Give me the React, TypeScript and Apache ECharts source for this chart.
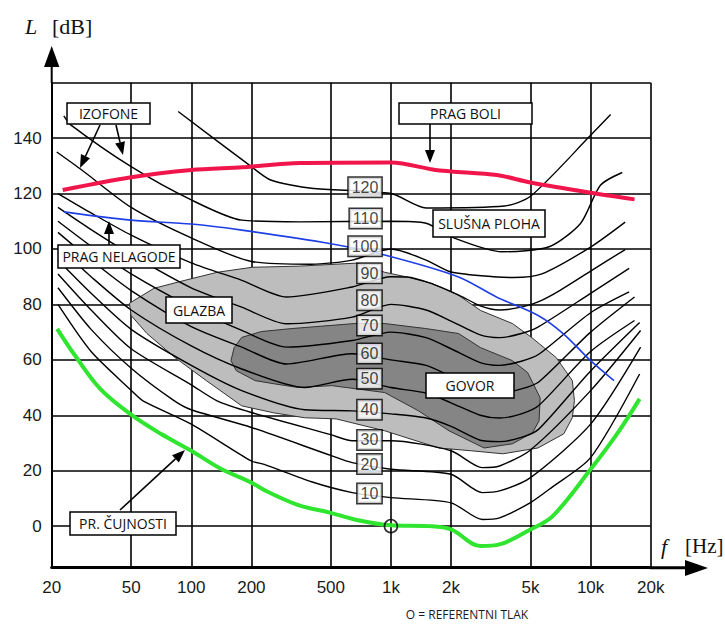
import React, { useEffect, useRef } from "react";
import * as echarts from "echarts";

type Pt = [number, number];

const frequencyTicks = [20, 50, 100, 200, 500, 1000, 2000, 5000, 10000, 20000];
const frequencyTickLabels = ["20", "50", "100", "200", "500", "1k", "2k", "5k", "10k", "20k"];
const levelGridLines = [0, 20, 40, 60, 80, 100, 120, 140, 160];
const levelTickLabels = [0, 20, 40, 60, 80, 100, 120, 140];

const hearingThreshold: Pt[] = [
  [21.3, 71.2], [25.8, 62.2], [35, 49.5], [50, 40.2], [70, 33.4], [100, 27.2], [140, 20.8], [200, 15.7],
  [240, 12.5], [344, 7.6], [500, 4.8], [658, 2.4], [1000, 0.3], [1540, 0], [2000, -1.2], [2810, -7.2],
  [3500, -6.6], [5000, -1.2], [6460, 3.6], [10000, 20.5], [13900, 34.4], [17600, 45.9],
];
const painThreshold: Pt[] = [
  [22.7, 121.3], [50, 125.9], [100, 128.5], [180, 129.5], [350, 131], [1000, 131.2], [1670, 128.5],
  [2000, 128], [3400, 126.7], [5000, 124], [10000, 120.3], [16600, 117.9],
];
const discomfortThreshold: Pt[] = [
  [23, 113.4], [50, 110.4], [100, 109], [179, 106.8], [500, 101.9], [930, 97.8], [2180, 89.9],
  [3375, 82.7], [5460, 76], [7310, 69.4], [10000, 59.7], [13100, 52.5],
];

const phon10: Pt[] = [[21.5, 80], [31.5, 63], [50, 49], [57, 45.3], [100, 36.8], [200, 23.5], [232, 22.3], [400, 16], [640, 12.1], [1000, 10.3], [2000, 8.4], [2870, 2.4], [3500, 3], [5000, 8.5], [6400, 14], [10000, 24.7], [17600, 54.9]];
const phon20: Pt[] = [[21.5, 86], [31.5, 71], [50, 57], [82, 45.3], [100, 42], [200, 35.6], [500, 25.5], [640, 22.9], [1000, 20.5], [2000, 18.7], [2870, 12.1], [3500, 12.7], [5000, 17.5], [10000, 36.8], [17800, 64.6]];
const phon30: Pt[] = [[21.5, 91], [31.5, 78], [50, 64], [100, 51], [134, 45.3], [200, 41], [500, 33], [640, 30.8], [1000, 30.8], [2000, 27.2], [2870, 21.1], [3500, 21.7], [5000, 27.5], [10000, 48.9], [17800, 70.6]];
const phon40: Pt[] = [[21.5, 96], [31.5, 84], [50, 71], [100, 58], [179, 48.9], [370, 42], [640, 41.6], [1000, 40.5], [1500, 39], [2000, 36], [2800, 31], [3500, 30.5], [4500, 32], [5500, 35], [10000, 56], [17600, 73.5]];
const phon50: Pt[] = [[21.5, 101], [31.5, 90], [50, 78], [100, 65], [179, 56.7], [370, 50], [640, 53], [1000, 50], [1500, 48], [2000, 44.5], [2800, 40], [3500, 39], [4500, 40.5], [5500, 43.5], [10000, 63], [16600, 74.2]];
const phon60: Pt[] = [[21.5, 106], [31.5, 96], [50, 85], [100, 72], [179, 64.6], [300, 58.5], [640, 62.2], [1000, 60], [1500, 58], [2000, 54], [2800, 49], [3500, 48], [4500, 49.5], [5500, 52], [10000, 70], [16600, 82.7]];
const phon70: Pt[] = [[21.5, 110], [31.5, 101], [50, 91], [100, 79], [179, 70.6], [300, 64.6], [640, 67], [1000, 70], [1500, 68], [2000, 64], [2800, 59], [3500, 58], [4500, 59.5], [5500, 62], [10000, 77], [15600, 84.5]];
const phon80: Pt[] = [[21.5, 115], [31.5, 107], [50, 98], [100, 86], [179, 79], [300, 73], [640, 75.4], [1000, 80], [1500, 78], [2000, 74], [2800, 69], [3500, 68], [4500, 69.5], [5500, 72], [10000, 84], [15600, 93]];
const phon90: Pt[] = [[21.5, 120], [31.5, 113], [50, 105], [100, 95], [179, 88.7], [300, 82.7], [640, 86.3], [1000, 90], [1200, 89.9], [1600, 87.5], [2200, 83.3], [2800, 79.5], [3500, 78], [4500, 79], [5500, 81], [7000, 85], [10000, 92], [14900, 99.8]];
const phon100: Pt[] = [[21.2, 135], [28.3, 128.5], [50, 115], [100, 104], [200, 95.5], [400, 94.5], [640, 96], [1000, 100], [1500, 96], [2000, 91.7], [3400, 89.9], [4100, 89.7], [5700, 91], [10000, 100.7], [14900, 109.7]];
const phon110: Pt[] = [[23, 148], [24.9, 144.8], [50, 129.7], [100, 117.7], [179, 110.4], [350, 109.8], [1000, 110], [1500, 109.3], [2000, 104.4], [3600, 99], [6200, 100.8], [8900, 109.2], [11200, 123], [14400, 127.6]];
const phon120: Pt[] = [[86, 149.6], [200, 129.7], [250, 124.9], [400, 121.9], [1000, 120], [1500, 114.8], [3700, 115.5], [5000, 119], [10000, 141], [12600, 148.5]];

const isophones: Pt[][] = [phon10, phon20, phon30, phon40, phon50, phon60, phon70, phon80, phon90, phon100, phon110, phon120];
const phonValues = [10, 20, 30, 40, 50, 60, 70, 80, 90, 100, 110, 120];
const phonLabelLevels = [11.8, 22.4, 31.1, 42, 53.2, 62.3, 72.4, 81.5, 91.2, 101, 111, 122.3];
const phonLabelFrequency = 960;

const musicArea: Pt[] = [
  [49, 80.4], [65, 85.8], [93, 88.7], [135, 91.6], [202, 93.4], [344, 93.8], [674, 94.9], [931, 91.6],
  [1221, 89.8], [1600, 87.6], [2180, 83.3], [2813, 77.8], [4060, 73.1], [5060, 68.1], [6730, 60.8],
  [8100, 52.5], [8300, 45.3], [8100, 39.1], [7340, 33.3], [5450, 28.2], [3640, 26.1], [2515, 27.2],
  [1737, 28.2], [931, 34.4], [531, 38.7], [370, 39.1], [258, 40.9], [179, 43.4], [119, 52.5], [83, 60.8],
  [60, 69.5], [50, 76],
];
const speechArea: Pt[] = [
  [164, 64.4], [179, 68.1], [224, 70.2], [320, 71.3], [658, 73.1], [931, 73.1], [1491, 71.3], [2180, 69.5],
  [2813, 64.4], [4060, 59.7], [4840, 55.4], [5590, 46.3], [5520, 38], [5120, 33.7], [4060, 29.7],
  [2930, 28.2], [1953, 34.4], [1374, 41.6], [931, 48.2], [505, 50.7], [344, 50], [258, 51.4], [209, 52.5],
  [168, 56.1], [158, 59.7],
];
const referencePoint: Pt = [1000, 0];

function freqLabel(v: number): string {
  for (let i = 0; i < frequencyTicks.length; i++) {
    if (Math.abs(Math.log10(v) - Math.log10(frequencyTicks[i])) < 0.01) return frequencyTickLabels[i];
  }
  return "";
}

function arrow(x1: number, y1: number, x2: number, y2: number, head = 13, half = 5) {
  const dx = x2 - x1, dy = y2 - y1;
  const len = Math.hypot(dx, dy);
  const ux = dx / len, uy = dy / len;
  const bx = x2 - ux * head, by = y2 - uy * head;
  return [
    { type: "line", z: 100, shape: { x1, y1, x2: bx, y2: by }, style: { stroke: "#000", lineWidth: 1.6 } },
    {
      type: "polygon", z: 100,
      shape: { points: [[x2, y2], [bx - uy * half, by + ux * half], [bx + uy * half, by - ux * half]] },
      style: { fill: "#000" },
    },
  ];
}

function box(x: number, y: number, w: number, h: number, text: string) {
  return [
    { type: "rect", z: 100, shape: { x, y, width: w, height: h }, style: { fill: "#fff", stroke: "#000", lineWidth: 1.5 } },
    {
      type: "text", z: 101, x: x + w / 2, y: y + h / 2,
      style: {
        text, fill: "#111", font: '14px "Open Sans"',
        align: "center", verticalAlign: "middle", textAlign: "center", textVerticalAlign: "middle",
      },
    },
  ];
}

function areaSeries(name: string, pts: Pt[], fill: string, z: number) {
  return {
    type: "custom", name, z, silent: true,
    data: [[1000, 50]],
    renderItem: (_p: any, api: any) => ({
      type: "polygon",
      shape: { points: pts.map((p) => api.coord(p)) },
      style: { fill, stroke: "#333", lineWidth: 1 },
    }),
  };
}

export default function App() {
  const ref = useRef<HTMLDivElement>(null);
  useEffect(() => {
    document.body.style.margin = "0";
    const chart = echarts.init(ref.current!, undefined, { renderer: "svg" });

    const series: any[] = [
      areaSeries("GLAZBA", musicArea, "#bdbdbd", 1),
      areaSeries("GOVOR", speechArea, "#858585", 2),
    ];
    isophones.forEach((d, i) => {
      series.push({
        type: "line", name: phonValues[i] + " phon", data: d, symbol: "none", smooth: 0.25, z: 3,
        lineStyle: { color: "#000", width: 1.4 }, silent: true,
      });
    });
    series.push({
      type: "line", name: "PRAG NELAGODE", data: discomfortThreshold, symbol: "none", smooth: 0.3, z: 4,
      lineStyle: { color: "#1f3fe6", width: 1.6 }, silent: true,
    });
    series.push({
      type: "line", name: "PRAG BOLI", data: painThreshold, symbol: "none", smooth: 0.3, z: 5,
      lineStyle: { color: "#f0164c", width: 4 }, silent: true,
    });
    series.push({
      type: "line", name: "PR. ČUJNOSTI", data: hearingThreshold, symbol: "none", smooth: 0.35, z: 5,
      lineStyle: { color: "#2fe52f", width: 4 }, silent: true,
    });
    series.push({
      type: "scatter", name: "REFERENTNI TLAK", data: [referencePoint], symbol: "circle", symbolSize: 13, z: 6,
      itemStyle: { color: "rgba(0,0,0,0)", borderColor: "#000", borderWidth: 1.6 }, silent: true,
    });
    series.push({
      type: "scatter", name: "phon", z: 7, symbolSize: 0, silent: true,
      data: phonLabelLevels.map((l, i) => [phonLabelFrequency, l, phonValues[i]]),
      label: {
        show: true, position: "left", distance: 6,
        formatter: (p: any) => String(p.value[2]),
        backgroundColor: "#fff", borderColor: "#000", borderWidth: 1.5, padding: [2, 3, 1, 3],
        color: "#111", fontSize: 16, fontFamily: "Liberation Sans",
      },
    });

    const graphic: any[] = [
      { type: "line", z: 100, shape: { x1: 51.7, y1: 83, x2: 51.7, y2: 64 }, style: { stroke: "#000", lineWidth: 2 } },
      { type: "polygon", z: 100, shape: { points: [[44, 67], [59.4, 67], [51.7, 46]] }, style: { fill: "#000" } },
      { type: "line", z: 100, shape: { x1: 650, y1: 567.7, x2: 688, y2: 567.7 }, style: { stroke: "#000", lineWidth: 3 } },
      { type: "polygon", z: 100, shape: { points: [[685, 560], [685, 576], [708, 568]] }, style: { fill: "#000" } },
      { type: "text", z: 101, x: 25, y: 26, style: { text: "L", fill: "#111", font: 'italic 22px "Liberation Serif"', verticalAlign: "middle", textVerticalAlign: "middle" } },
      { type: "text", z: 101, x: 52, y: 26, style: { text: "[dB]", fill: "#111", font: '22px "Liberation Serif"', verticalAlign: "middle", textVerticalAlign: "middle" } },
      { type: "text", z: 101, x: 661, y: 546, style: { text: "f", fill: "#111", font: 'italic 22px "Liberation Serif"', verticalAlign: "middle", textVerticalAlign: "middle" } },
      { type: "text", z: 101, x: 685, y: 546, style: { text: "[Hz]", fill: "#111", font: '21px "Liberation Serif"', verticalAlign: "middle", textVerticalAlign: "middle" } },
      {
        type: "text", z: 101, x: 467, y: 614,
        style: { text: "O = REFERENTNI TLAK", fill: "#1a1a1a", font: '12px "Open Sans"', align: "center", textAlign: "center", verticalAlign: "middle", textVerticalAlign: "middle" },
      },
      ...box(67, 103, 83, 21, "IZOFONE"),
      ...arrow(100, 125, 80, 168),
      ...arrow(116, 125, 123, 155),
      ...box(399, 103, 133, 21, "PRAG BOLI"),
      ...arrow(430, 124, 430, 163),
      ...box(433, 210, 112, 27, "SLUŠNA PLOHA"),
      ...box(58, 245, 122, 23, "PRAG NELAGODE"),
      ...arrow(109, 245, 109, 221),
      ...box(166, 297, 66, 26, "GLAZBA"),
      ...box(426, 373, 88, 25, "GOVOR"),
      ...box(70, 512, 106, 23, "PR. ČUJNOSTI"),
      ...arrow(120, 510, 185, 450),
    ];

    chart.setOption({
      animation: false,
      backgroundColor: "#fff",
      grid: { left: 51.7, right: 74.3, top: 82.7, bottom: 58.3, containLabel: false },
      xAxis: {
        type: "log", logBase: 10, min: 20, max: 20000,
        axisLine: { show: true, onZero: false, lineStyle: { color: "#000", width: 3 } },
        axisTick: { show: false, customValues: frequencyTicks },
        axisLabel: {
          customValues: frequencyTicks, formatter: (v: number) => freqLabel(v),
          showMinLabel: true, showMaxLabel: true,
          fontSize: 17, color: "#1a1a1a", fontFamily: "Liberation Sans", margin: 11,
        },
        splitLine: { show: true, lineStyle: { color: "#000", width: 1.6 } },
        minorTick: { show: false }, minorSplitLine: { show: false },
      },
      yAxis: {
        type: "value", min: -15, max: 160,
        axisLine: { show: true, onZero: false, lineStyle: { color: "#000", width: 2 } },
        axisTick: { show: false, customValues: levelGridLines },
        axisLabel: {
          customValues: levelTickLabels, formatter: (v: number) => String(v),
          fontSize: 17, color: "#1a1a1a", fontFamily: "Liberation Sans", margin: 10,
        },
        splitLine: { show: true, lineStyle: { color: "#000", width: 1.6 } },
      },
      series,
      graphic,
    });
    return () => chart.dispose();
  }, []);
  return <div ref={ref} style={{ width: 725, height: 626 }} />;
}
